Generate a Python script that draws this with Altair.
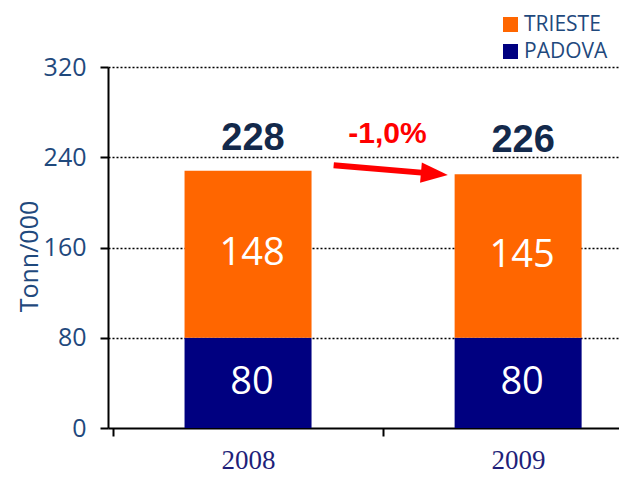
import altair as alt
import pandas as pd

# ---- data ----
years = ["2008", "2009"]
padova = [80, 80]
trieste = [148, 145]
totals = [228, 226]
series_names = ["TRIESTE", "PADOVA"]
series_colors = ["#FF6600", "#000080"]
change_text = "-1,0%"

# annotation (data space)
arrow_x = [0.817, 1.175]
arrow_y = [233.0, 225.7]
arrow_head_x = [1.19]
arrow_head_y = [225.3]
change_x = [1.016]
change_y = [261.0]

rows = []
for i, y in enumerate(years):
    rows.append({"year": y, "pos": i + 0.5, "series": "PADOVA", "value": padova[i], "ord": 0})
    rows.append({"year": y, "pos": i + 0.5, "series": "TRIESTE", "value": trieste[i], "ord": 1})
df = pd.DataFrame(rows)
tot_df = pd.DataFrame({"year": years, "pos": [i + 0.5 for i in range(len(years))], "total": totals})
arrow_df = pd.DataFrame({"x": arrow_x, "y": arrow_y})
head_df = pd.DataFrame({"x": arrow_head_x, "y": arrow_head_y})
change_df = pd.DataFrame({"x": change_x, "y": change_y, "t": [change_text]})

BLUE = "#1F497D"
SANS = "Open Sans"

label_expr = "datum.value == 0.5 ? '2008' : (datum.value == 1.5 ? '2009' : '')"

xscale = alt.Scale(domain=[0, 1.855], nice=False, zero=False)
xaxis = alt.Axis(
    values=[0, 0.5, 1, 1.5],
    labelExpr=label_expr,
    title=None,
    grid=False,
    tickOpacity={"condition": {"test": "datum.value % 1 == 0", "value": 1}, "value": 0},
    tickSize=8,
    tickWidth=2,
    tickColor="black",
    domainColor="black",
    domainWidth=2,
    labelFont="Liberation Serif",
    labelFontSize=27,
    labelColor="#1F1F7A",
    labelPadding=11,
    labelBaseline="top",
)
yscale = alt.Scale(domain=[0, 320], nice=False)
yaxis = alt.Axis(
    values=[0, 80, 160, 240, 320],
    title="Tonn/000",
    titleFont=SANS,
    titleFontSize=25,
    titleFontWeight="normal",
    titleColor=BLUE,
    titleAngle=-90,
    titleAlign="center",
    titleBaseline="middle",
    titleX=-79,
    titleY=189,
    grid=True,
    gridColor="black",
    gridDash=[2, 2],
    gridWidth=1.5,
    gridOpacity={"condition": {"test": "datum.value == 0", "value": 0}, "value": 1},
    tickSize=8,
    tickWidth=2,
    tickColor="black",
    domainColor="black",
    domainWidth=2,
    labelFont=SANS,
    labelFontSize=25,
    labelColor=BLUE,
    labelPadding=14,
)

bars = alt.Chart(df).mark_bar(size=127).encode(
    x=alt.X("pos:Q", scale=xscale, axis=xaxis),
    y=alt.Y("value:Q", scale=yscale, axis=yaxis, stack="zero"),
    color=alt.Color(
        "series:N",
        scale=alt.Scale(domain=series_names, range=series_colors),
        legend=alt.Legend(
            title=None,
            orient="none",
            legendX=392,
            legendY=-53,
            symbolType="square",
            symbolSize=225,
            symbolStrokeWidth=0,
            labelFont=SANS,
            labelFontSize=21,
            labelColor=BLUE,
            labelOffset=3,
            rowPadding=5,
            padding=0,
        ),
    ),
    order=alt.Order("ord:Q"),
)

seg_labels = (
    alt.Chart(df)
    .transform_stack(stack="value", groupby=["pos"], as_=["v0", "v1"], sort=[alt.SortField("ord")])
    .transform_calculate(mid="(datum.v0 + datum.v1) / 2")
    .mark_text(font=SANS, fontSize=38, color="white", baseline="middle", dx=4)
    .encode(x="pos:Q", y="mid:Q", text="value:Q")
)

tot_labels = alt.Chart(tot_df).mark_text(
    font="Liberation Sans", fontSize=38, fontWeight="bold", color="#13294B",
    baseline="alphabetic", dy=-21, dx=5,
).encode(x="pos:Q", y="total:Q", text="total:Q")

arrow_line = alt.Chart(arrow_df).mark_line(color="#FF0000", strokeWidth=6, strokeCap="butt").encode(
    x="x:Q", y="y:Q"
)
arrow_head = alt.Chart(head_df).mark_point(
    shape="M -1 -0.75 L 1 0 L -1 0.75 Z", size=729, filled=True, color="#FF0000", opacity=1, angle=5,
).encode(x="x:Q", y="y:Q")

change_lbl = alt.Chart(change_df).mark_text(
    font="Liberation Sans", fontSize=30, fontWeight="bold", color="#FF0000", baseline="middle",
).encode(x="x:Q", y="y:Q", text="t:N")

chart = (
    alt.layer(bars, seg_labels, tot_labels, arrow_line, arrow_head, change_lbl)
    .properties(
        width=511,
        height=361,
        autosize=alt.AutoSizeParams(type="none"),
        padding={"left": 100, "top": 59, "right": 0, "bottom": 46},
    )
    .configure_view(stroke=None)
)

chart.save("out.html", embed_options={"renderer": "svg", "actions": False})
